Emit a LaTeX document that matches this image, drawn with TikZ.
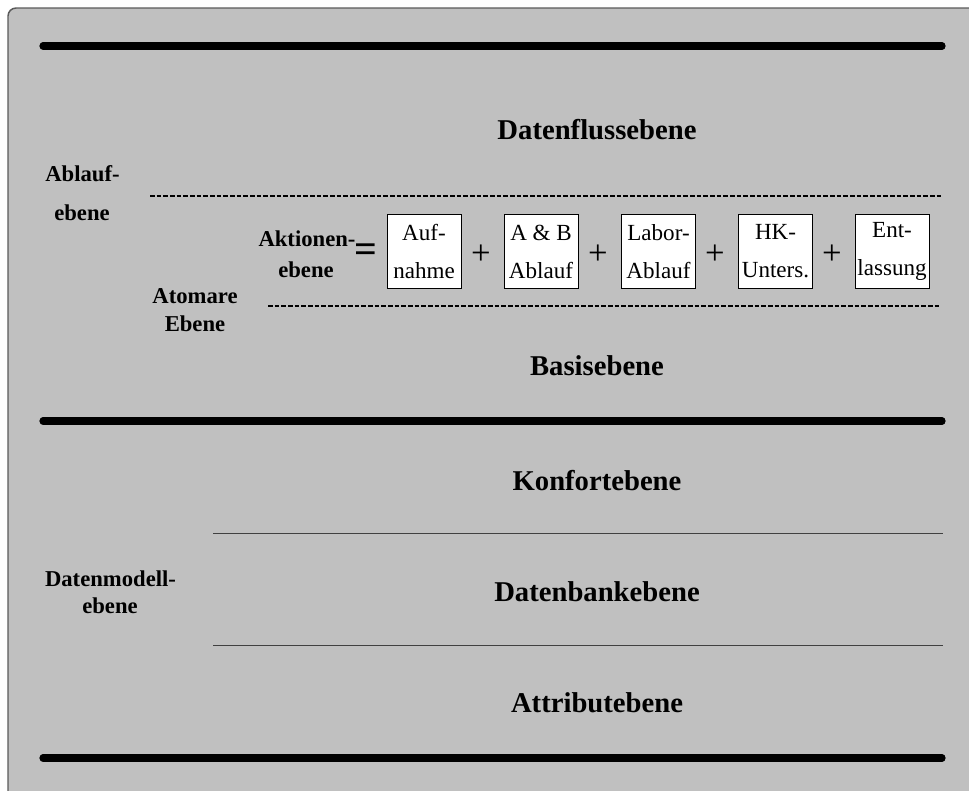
\documentclass[tikz,border=0pt]{standalone}
\usepackage{fontspec}
\setmainfont{Liberation Serif}
\begin{document}
\begin{tikzpicture}[x=0.75pt,y=-0.75pt,
  panel/.style={fill=panelgray,draw=framegray,line width=1.1pt,rounded corners=6pt},
  heavyrule/.style={line width=5.4pt,line cap=round},
  dashrule/.style={line width=1.6pt,dash pattern=on 3.6pt off 1.4pt},
  thinrule/.style={line width=0.75pt,draw=rulegray},
  levelname/.style={font=\fontsize{21.5}{24}\selectfont\bfseries,inner sep=0pt},
  sidelabel/.style={font=\fontsize{17}{19}\selectfont\bfseries,inner sep=0pt},
  actionbox/.style={draw,fill=white,line width=0.6pt,minimum width=55.5pt,minimum height=56pt,inner sep=0pt,align=center,font=\fontsize{17.3}{28.5}\selectfont},
  plus/.style={font=\fontsize{26}{26}\selectfont,inner sep=0pt}
]
\definecolor{panelgray}{HTML}{C0C0C0}
\definecolor{framegray}{HTML}{5A5A5A}
\definecolor{rulegray}{HTML}{404040}
\useasboundingbox (0,0) rectangle (969,790);
% background panel
\draw[panel] (8,8) rectangle (990,810);

% heavy separators
\coordinate (h1l) at (43,46);  \coordinate (h1r) at (942,46);
\coordinate (h2l) at (43,421); \coordinate (h2r) at (942,421);
\coordinate (h3l) at (43,758); \coordinate (h3r) at (942,758);
\draw[heavyrule] (h1l) -- (h1r);
\draw[heavyrule] (h2l) -- (h2r);
\draw[heavyrule] (h3l) -- (h3r);

% dashed separators
\coordinate (d1l) at (150,196); \coordinate (d1r) at (943,196);
\coordinate (d2l) at (268,306); \coordinate (d2r) at (940,306);
\draw[dashrule] (d1l) -- (d1r);
\draw[dashrule] (d2l) -- (d2r);

% thin separators
\coordinate (t1l) at (213,533); \coordinate (t1r) at (943,533);
\coordinate (t2l) at (213,645); \coordinate (t2r) at (943,645);
\draw[thinrule] (t1l) -- (t1r);
\draw[thinrule] (t2l) -- (t2r);

% level names
\node[levelname] (fluss) at (597,130) {Datenflussebene};
\node[levelname] (basis) at (597,366) {Basisebene};
\node[levelname] (konfort) at (597,481) {Konfortebene};
\node[levelname] (bank) at (597,592) {Datenbankebene};
\node[levelname] (attr) at (597,703) {Attributebene};

% side labels
\node[sidelabel] (abl1) at (82.5,174) {Ablauf-};
\node[sidelabel] (abl2) at (82,213) {ebene};
\node[sidelabel] (ato1) at (195,296) {Atomare};
\node[sidelabel] (ato2) at (195,324) {Ebene};
\node[sidelabel] (akt1) at (307,239) {Aktionen-};
\node[sidelabel] (akt2) at (306,270) {ebene};
\node[sidelabel] (dm1) at (110.5,579) {Datenmodell-};
\node[sidelabel] (dm2) at (110,606) {ebene};

% action chain
\node[font=\fontsize{30}{30}\selectfont\bfseries,inner sep=0pt] (eq) at (366,253) {=};
\node[actionbox] (b1) at (424,251.5) {Auf-\\nahme};
\node[plus] (p1) at (481,255) {+};
\node[actionbox] (b2) at (541,251.5) {A \& B\\Ablauf};
\node[plus] (p2) at (598,255) {+};
\node[actionbox] (b3) at (658.5,251.5) {Labor-\\Ablauf};
\node[plus] (p3) at (715,255) {+};
\node[actionbox] (b4) at (775.5,251.5) {HK-\\Unters.};
\node[plus] (p4) at (832,255) {+};
\node[actionbox] (b5) at (892,251.5) {Ent-\\lassung};
\end{tikzpicture}
\end{document}
